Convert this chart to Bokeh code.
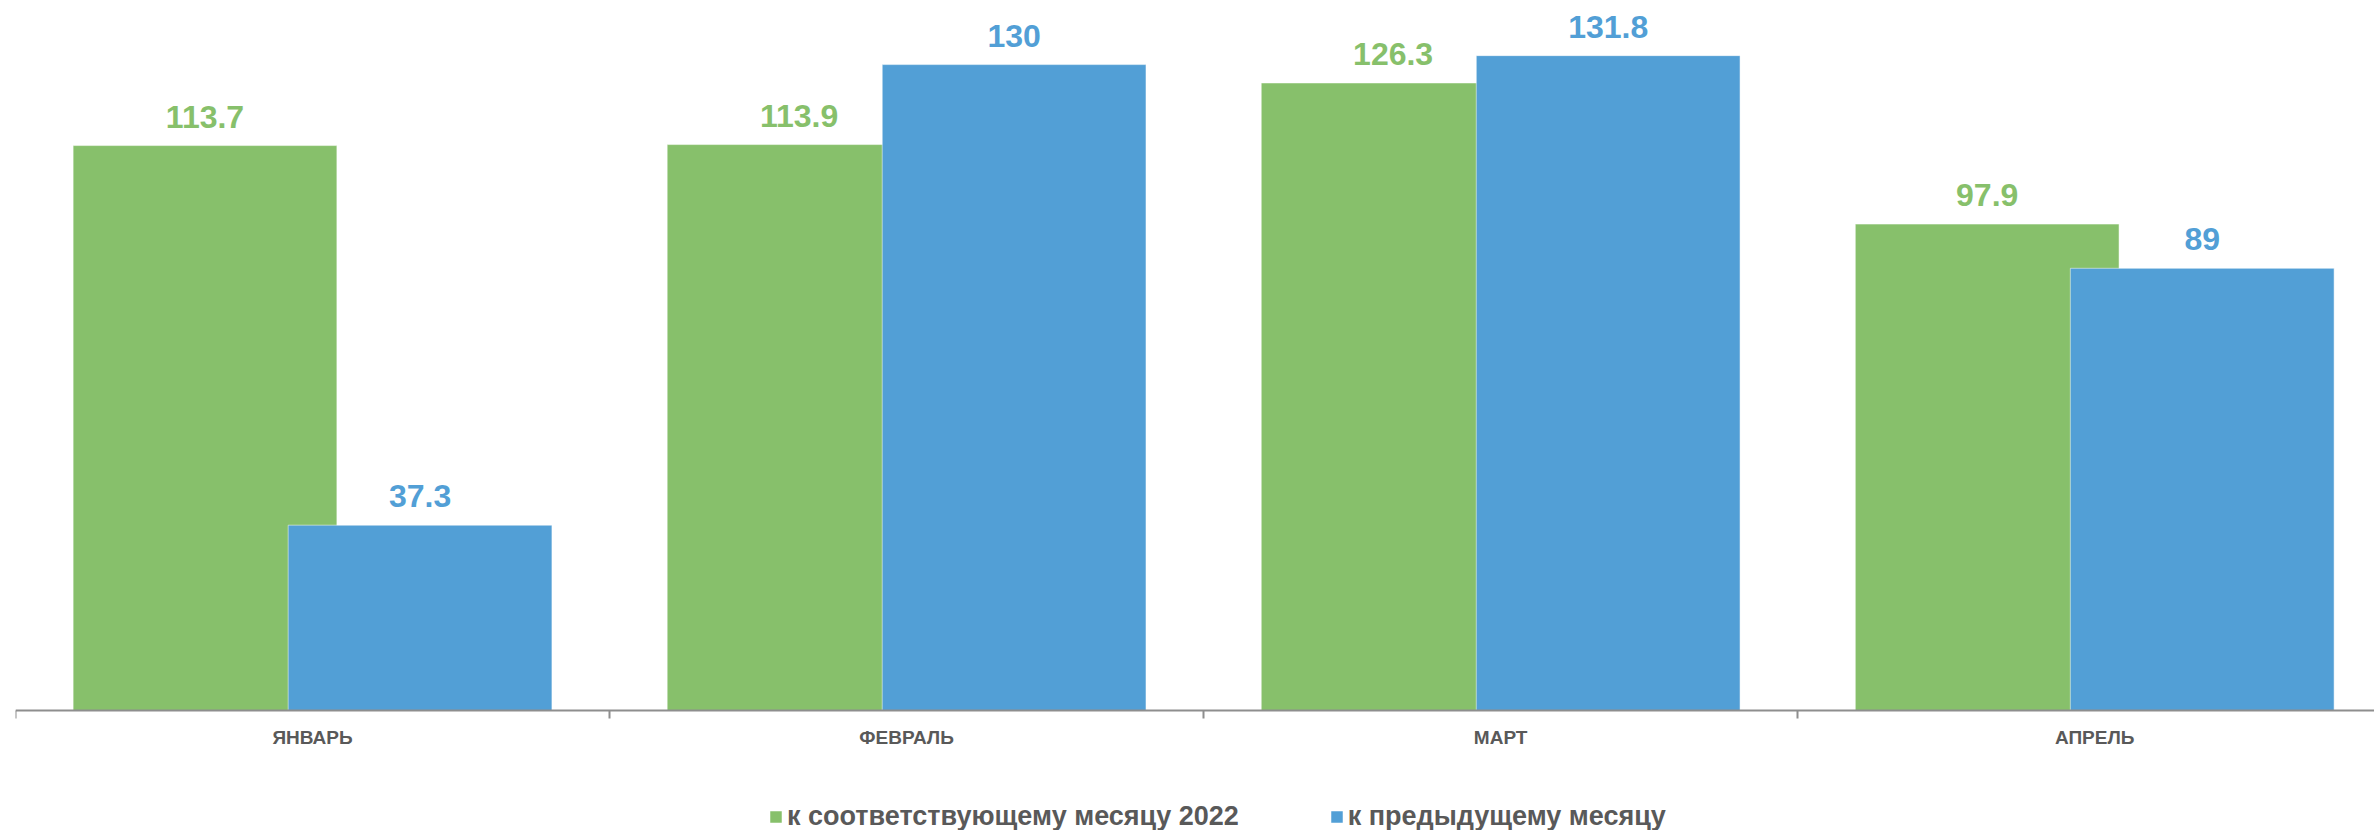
import numpy as np
from bokeh.plotting import figure
from bokeh.models import ColumnDataSource, Range1d, FixedTicker, Legend, LegendItem
from bokeh.transform import dodge
from bokeh.core.properties import value
from bokeh.embed import file_html
from bokeh.resources import INLINE

months = ["ЯНВАРЬ", "ФЕВРАЛЬ", "МАРТ", "АПРЕЛЬ"]
series_names = ["к соответствующему месяцу 2022", "к предыдущему месяцу"]
vs_2022 = [113.7, 113.9, 126.3, 97.9]
vs_prev = [37.3, 130.0, 131.8, 89.0]

GREEN = "#87C06B"
BLUE = "#529FD6"
FONT = "Liberation Sans"

xc = np.arange(len(months)) + 0.5
src = ColumnDataSource(dict(
    x=xc,
    g=vs_2022,
    b=vs_prev,
    gl=[f"{v:g}" for v in vs_2022],
    bl=[f"{v:g}" for v in vs_prev],
))

p = figure(width=2374, height=830, output_backend="svg", toolbar_location=None,
           x_range=Range1d(0, 3.971), y_range=Range1d(-24.15, 142.9))
p.min_border_left = 15
p.min_border_right = 0
p.min_border_top = 0
p.min_border_bottom = 0
p.outline_line_color = None
p.grid.visible = False
p.yaxis.visible = False
p.background_fill_color = "white"
p.border_fill_color = "white"

off = 0.181
w = 0.444
rg = p.vbar(x=dodge("x", -off, range=p.x_range), top="g", width=w, source=src,
            fill_color=GREEN, line_color="white", line_alpha=0.5, line_width=1)
rb = p.vbar(x=dodge("x", off, range=p.x_range), top="b", width=w, source=src,
            fill_color=BLUE, line_color="white", line_alpha=0.5, line_width=1)

p.text(x=dodge("x", -off, range=p.x_range), y="g", text="gl", source=src,
       text_font=value(FONT), text_font_style="bold", text_font_size="32px",
       text_color=GREEN, text_align="center", text_baseline="middle", y_offset=-29)
p.text(x=dodge("x", off, range=p.x_range), y="b", text="bl", source=src,
       text_font=value(FONT), text_font_style="bold", text_font_size="32px",
       text_color=BLUE, text_align="center", text_baseline="middle", y_offset=-29)

ax = p.xaxis[0]
ax.fixed_location = 0
ax.ticker = FixedTicker(ticks=list(xc), minor_ticks=list(range(len(months) + 1)))
ax.major_label_overrides = {float(x): m for x, m in zip(xc, months)}
ax.major_tick_out = 0
ax.major_tick_in = 0
ax.minor_tick_in = 0
ax.minor_tick_out = 8
ax.minor_tick_line_color = "#8e8e8e"
ax.minor_tick_line_width = 2
ax.axis_line_color = "#8e8e8e"
ax.axis_line_width = 2
ax.major_label_standoff = 8
ax.major_label_text_font = FONT
ax.major_label_text_font_style = "bold"
ax.major_label_text_font_size = "19px"
ax.major_label_text_color = "#595959"

legend = Legend(items=[LegendItem(label=series_names[0], renderers=[rg]),
                       LegendItem(label=series_names[1], renderers=[rb])],
                orientation="horizontal", location=(753, -2),
                glyph_width=15, glyph_height=15, label_standoff=4, spacing=90,
                padding=0, margin=0, border_line_color=None,
                background_fill_alpha=0,
                label_text_font=FONT, label_text_font_style="bold",
                label_text_font_size="27px", label_text_color="#595959")
p.add_layout(legend, "center")

open("out.html", "w").write(file_html(p, INLINE))
